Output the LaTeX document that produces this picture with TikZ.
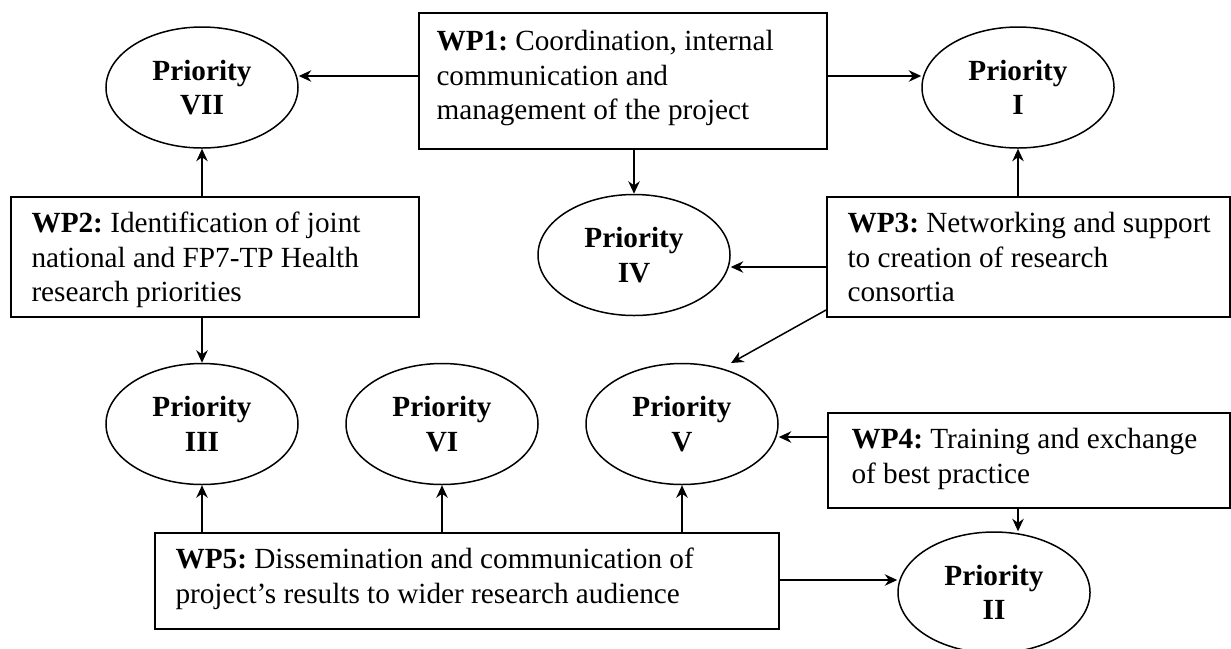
\documentclass[tikz,border=0pt]{standalone}
\usepackage{fontspec}
\setmainfont{Liberation Serif}
\usetikzlibrary{arrows.meta,calc,shapes.geometric}
\frenchspacing
\begin{document}
\begin{tikzpicture}[x=0.4pt,y=-0.4pt,
  prio/.style={draw,line width=0.6pt,ellipse,minimum width=76.8pt,minimum height=48.4pt,inner sep=0pt,align=center,font=\fontsize{11.7}{13.8}\selectfont\bfseries},
  wpbox/.style={draw,line width=0.8pt,rectangle,inner sep=0pt,anchor=north west},
  wptext/.style={anchor=north west,inner sep=0pt,align=left,font=\fontsize{11.7}{13.8}\selectfont},
  arr/.style={-{Stealth[length=5pt,width=4.6pt]},line width=0.6pt}]
\useasboundingbox (0,0) rectangle (1231,648);
% boxes
\node[wpbox,minimum width=163.2pt,minimum height=54.4pt] (wp1) at (418,12) {};
\node[wpbox,minimum width=163.2pt,minimum height=48pt] (wp2) at (10,196) {};
\node[wpbox,minimum width=161.2pt,minimum height=48pt] (wp3) at (826,196) {};
\node[wpbox,minimum width=160.8pt,minimum height=38pt] (wp4) at (827,412) {};
\node[wpbox,minimum width=249.6pt,minimum height=38.4pt] (wp5) at (154,532) {};
% box texts
\node[wptext] (t1) at (436,25.85) {\strut\textbf{WP1:} Coordination, internal\\communication and\\management of the project};
\node[wptext] (t2) at (31,207.85) {\strut\textbf{WP2:} Identification of joint\\national and FP7-TP Health\\research priorities};
\node[wptext] (t3) at (847,207.85) {\strut\textbf{WP3:} Networking and support\\to creation of research\\consortia};
\node[wptext] (t4) at (851,423.85) {\strut\textbf{WP4:} Training and exchange\\of best practice};
\node[wptext] (t5) at (175,543.85) {\strut\textbf{WP5:} Dissemination and communication of\\project’s results to wider research audience};
% priorities
\node[prio] (p7) at (202,87.5) {Priority\\VII};
\node[prio] (p1) at (1018,87.5) {Priority\\I};
\node[prio] (p4) at (634,255) {Priority\\IV};
\node[prio] (p3) at (202,424) {Priority\\III};
\node[prio] (p6) at (442,424) {Priority\\VI};
\node[prio] (p5) at (682,424) {Priority\\V};
\node[prio] (p2) at (994,592.5) {Priority\\II};
% connectors
\draw[arr] ($(wp1.north west)+(0,64)$) coordinate (a1) -- (a1 -| p7.east);
\draw[arr] ($(wp1.north east)+(0,64)$) coordinate (a2) -- (a2 -| p1.west);
\draw[arr] (wp1.south -| p4.north) -- (p4.north);
\draw[arr] (wp2.north -| p7.south) -- (p7.south);
\draw[arr] (wp2.south -| p3.north) -- (p3.north);
\draw[arr] (wp3.north -| p1.south) -- (p1.south);
\draw[arr] ($(wp3.north west)+(0,71)$) coordinate (a3) -- (a3 -| p4.east);
\draw[arr] ($(wp3.south west)+(0,-8)$) -- ($(p5.center)+(49,-61)$);
\draw[arr] ($(wp4.north west)+(0,25)$) coordinate (a4) -- (a4 -| p5.east);
\draw[arr] ($(wp4.south west)+(191,0)$) coordinate (a5) -- (a5 |- p2.north);
\draw[arr] (wp5.north -| p3.south) -- (p3.south);
\draw[arr] (wp5.north -| p6.south) -- (p6.south);
\draw[arr] (wp5.north -| p5.south) -- (p5.south);
\draw[arr] ($(wp5.north east)+(0,48)$) coordinate (a6) -- (a6 -| p2.west);
\end{tikzpicture}
\end{document}
